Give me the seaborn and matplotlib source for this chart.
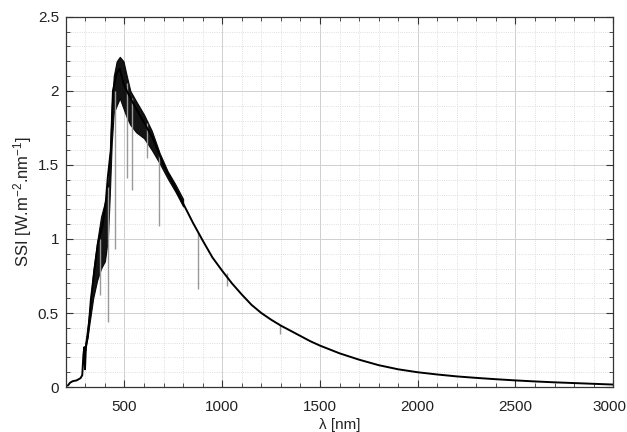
import matplotlib
matplotlib.use("Agg")
import matplotlib.pyplot as plt
import matplotlib.transforms as mtransforms
import seaborn as sns
import pandas as pd
from matplotlib.ticker import MultipleLocator, FuncFormatter

# ---- data ----
wavelength = [210, 222, 236, 255, 275, 284, 290, 295, 298, 303, 313, 328, 348, 364,
              389, 405, 415, 430, 441, 460, 476, 495, 512, 543, 594, 645, 700, 750,
              800, 850, 900, 950, 1000, 1050, 1100, 1150, 1200, 1250, 1300, 1350, 1400,
              1450, 1500, 1600, 1700, 1800, 1900, 2000, 2100, 2200, 2300, 2400, 2500,
              2600, 2700, 2800, 2900, 3000]
ssi = [0.01, 0.03, 0.04, 0.045, 0.06, 0.08, 0.22, 0.27, 0.12, 0.28, 0.34, 0.59, 0.81, 0.97,
       1.10, 1.26, 1.42, 1.60, 2.00, 2.12, 2.15, 2.05, 2.00, 1.92, 1.80, 1.68, 1.50, 1.37,
       1.24, 1.11, 0.99, 0.875, 0.785, 0.70, 0.625, 0.555, 0.50, 0.455, 0.415, 0.38, 0.345,
       0.31, 0.28, 0.228, 0.185, 0.148, 0.12, 0.10, 0.085, 0.072, 0.062, 0.053, 0.045,
       0.038, 0.032, 0.027, 0.022, 0.017]

band_wl = [300, 320, 340, 360, 380, 400, 415, 425, 435, 445, 460, 476, 495, 512, 530,
           560, 600, 640, 680, 720, 760, 800]
band_upper = [0.30, 0.50, 0.78, 0.98, 1.15, 1.25, 1.35, 1.55, 1.90, 2.10, 2.20, 2.23, 2.20,
              2.10, 2.00, 1.93, 1.84, 1.73, 1.58, 1.46, 1.37, 1.27]
band_lower = [0.25, 0.42, 0.60, 0.72, 0.80, 0.85, 1.00, 1.30, 1.65, 1.85, 1.90, 1.95, 1.88,
              1.82, 1.77, 1.72, 1.68, 1.60, 1.51, 1.41, 1.32, 1.22]

line_wl = [375, 418, 452, 512, 538, 614, 676, 876, 1024, 1295]
line_bottom = [0.62, 0.44, 0.93, 1.41, 1.33, 1.55, 1.09, 0.66, 0.68, 0.36]
line_top = [1.00, 1.35, 2.00, 2.05, 1.95, 1.78, 1.58, 1.04, 0.77, 0.42]

x_ticks = [500, 1000, 1500, 2000, 2500, 3000]
y_ticks = [0, 0.5, 1, 1.5, 2, 2.5]

df = pd.DataFrame({"wl": wavelength, "ssi": ssi})

sns.set_style("ticks")
plt.rcParams["font.family"] = ["Liberation Sans", "DejaVu Sans"]
plt.rcParams["mathtext.fontset"] = "custom"
plt.rcParams["mathtext.rm"] = "Liberation Sans"
plt.rcParams["mathtext.it"] = "Liberation Sans"

fig = plt.figure(figsize=(6.27, 4.32), dpi=100)
ax = fig.add_axes([0.105, 0.104, 0.873, 0.857])

ax.set_xlim(200, 3000)
ax.set_ylim(0, 2.5)

# grid
ax.xaxis.set_major_locator(MultipleLocator(500))
ax.xaxis.set_minor_locator(MultipleLocator(100))
ax.yaxis.set_major_locator(MultipleLocator(0.5))
ax.yaxis.set_minor_locator(MultipleLocator(0.1))
ax.grid(which="major", color="#cfcfcf", linewidth=0.7, linestyle="-")
ax.grid(which="minor", color="#d4d4d4", linewidth=0.6, linestyle=":")
ax.set_axisbelow(True)

# spectrum
ax.fill_between(band_wl, band_lower, band_upper, color="black", linewidth=0.8, alpha=0.92)
ax.vlines(line_wl, line_bottom, line_top, color="#9a9a9a", linewidth=1.0)
sns.lineplot(data=df, x="wl", y="ssi", ax=ax, color="black", linewidth=1.4, sort=False)

ax.set_xticks(x_ticks)
ax.set_yticks(y_ticks)
ax.yaxis.set_major_formatter(FuncFormatter(lambda v, p: f"{v:g}"))
ax.tick_params(which="both", direction="in", top=True, right=True, colors="#333333",
               labelcolor="#222222", labelsize=11)
ax.tick_params(which="major", length=5, width=0.8)
ax.tick_params(which="minor", length=3, width=0.6)
ax.tick_params(axis="x", which="major", pad=9)
ax.tick_params(axis="y", which="major", pad=5)
for s in ax.spines.values():
    s.set_color("#333333")
    s.set_linewidth(0.9)

# nudge the last x tick label so it stays inside the figure
last = ax.get_xticklabels()[-1]
last.set_transform(last.get_transform() +
                   mtransforms.ScaledTranslation(-4 / 100, 0, fig.dpi_scale_trans))

ax.set_xlabel("λ [nm]", fontsize=11, color="#222222", labelpad=3)
ax.set_ylabel("SSI [W.m$^{-2}$.nm$^{-1}$]", fontsize=12, color="#222222", labelpad=3)

fig.savefig("out.png", dpi=100)
